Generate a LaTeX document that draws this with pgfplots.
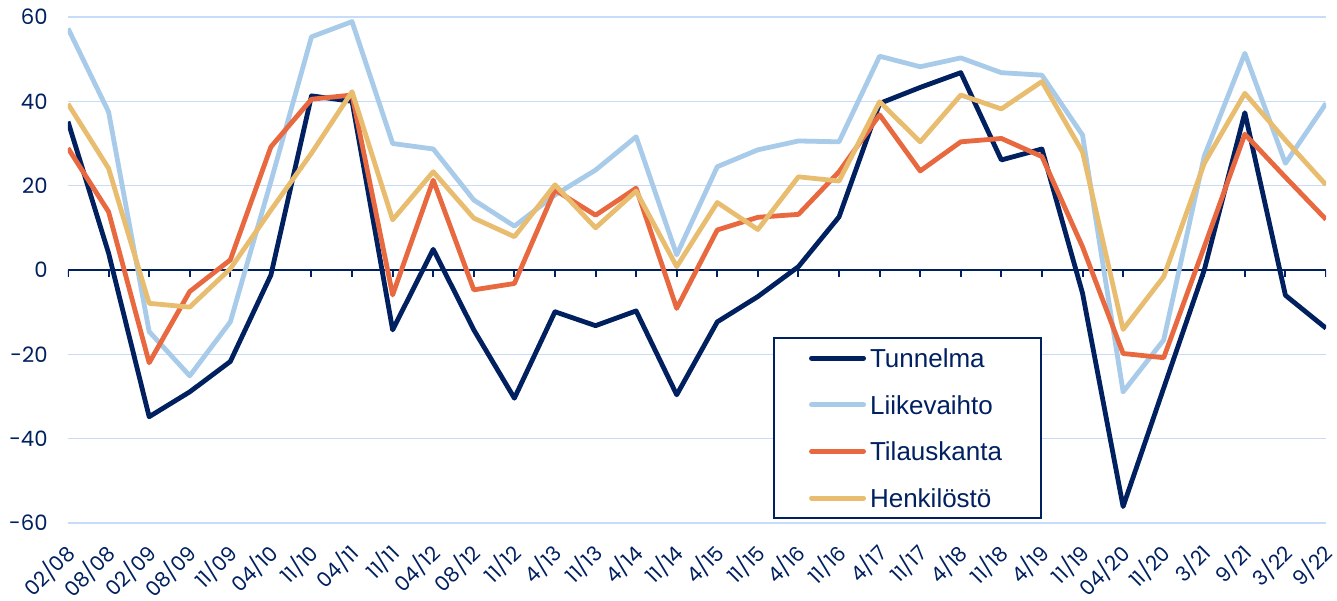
\documentclass[border=0pt]{standalone}
\usepackage{pgfplots}
\pgfplotsset{compat=1.18}
\usepackage{fontspec}
\setmainfont{Liberation Sans}
\newfontfamily\gothic{Poppins}
\usetikzlibrary{calc}

\definecolor{navy}{HTML}{002060}
\definecolor{lblue}{HTML}{A8CBEA}
\definecolor{orng}{HTML}{E8693F}
\definecolor{gold}{HTML}{E8BD70}
\definecolor{gridc}{HTML}{C6DCF8}

% x = jakso (0 = 02/08 ... 31 = 9/22)
\pgfplotstableread{
x   tun    lii    til    hen
0   35.2   57.3   28.9   39.4
1   4.0    37.5   13.8   24.1
2   -34.8  -14.6  -22.0  -7.9
3   -28.9  -25.1  -5.1   -8.8
4   -21.7  -12.3  2.4    0.3
5   -1.2   21.0   29.2   14.2
6   41.3   55.3   40.5   27.7
7   40.0   58.9   41.5   42.3
8   -14.2  30.0   -5.9   11.9
9   4.9    28.7   21.3   23.3
10  -14.2  16.6   -4.7   12.3
11  -30.4  10.4   -3.2   7.9
12  -9.9   17.8   19.0   20.2
13  -13.2  23.7   13.0   10.0
14  -9.7   31.6   19.4   18.7
15  -29.6  3.6    -9.1   0.8
16  -12.3  24.5   9.5    16.0
17  -6.3   28.5   12.5   9.6
18  0.8    30.6   13.2   22.1
19  12.6   30.4   23.3   21.1
20  39.5   50.7   36.8   39.9
21  43.3   48.2   23.5   30.4
22  46.8   50.3   30.4   41.5
23  26.1   46.8   31.2   38.2
24  28.7   46.2   26.9   44.7
25  -5.5   32.0   5.5    28.0
26  -56.1  -28.9  -19.8  -14.1
27  -28.0  -16.6  -20.8  -1.6
28  0.0    27.0   5.5    25.3
29  37.3   51.4   32.2   41.9
30  -6.0   25.3   22.0   30.8
31  -13.8  39.5   12.0   20.2
}\data

\begin{document}
\begin{tikzpicture}
\begin{axis}[
    scale only axis,
    width=629pt, height=253pt,
    xmin=0, xmax=31, ymin=-60, ymax=60,
    axis line style={draw=none},
    major tick length=0pt,
    xtick={0,...,31},
    xticklabels={02/08,08/08,02/09,08/09,11/09,04/10,11/10,04/11,11/11,04/12,08/12,11/12,4/13,11/13,4/14,11/14,4/15,11/15,4/16,11/16,4/17,11/17,4/18,11/18,4/19,11/19,04/20,11/20,3/21,9/21,3/22,9/22},
    xticklabel style={font=\gothic\fontsize{10.3}{12}\selectfont, text=navy, xshift=1.5pt, yshift=-13pt, rotate=45, anchor=east, inner sep=0pt},
    ytick={-60,-40,...,60},
    yticklabels={-60,-40,-20,0,20,40,60},
    yticklabel style={font=\gothic\fontsize{10.6}{12}\selectfont, text=navy, anchor=east, inner sep=0pt, xshift=-10pt},
    ymajorgrids,
    major grid style={gridc, line width=0.7pt},
    every axis plot/.append style={line width=2.4pt, line join=round},
    legend style={at={(axis cs:24.0,-59.1)}, anchor=south east, draw=navy, line width=0.9pt,
        fill=white, font=\fontsize{13}{15}\selectfont, text=navy,
        inner xsep=17.5pt, inner ysep=3.5pt, row sep=10pt,
        nodes={inner sep=2pt, text height=9.3pt, text depth=0pt}},
    legend cell align=left,
    legend image code/.code={\draw[#1, line width=2.5pt, line cap=round] (0pt,0pt) -- (26pt,0pt);},
]
\draw[navy, line width=1pt] (axis cs:0,0) -- (axis cs:31,0);
\pgfplotsinvokeforeach{0,...,31}{\draw[navy, line width=1pt] (axis cs:#1,0) -- ++(0pt,-3.5pt);}
\addplot[navy] table[x=x, y=tun] {\data};
\addlegendentry{Tunnelma}
\addplot[lblue] table[x=x, y=lii] {\data};
\addlegendentry{Liikevaihto}
\addplot[orng] table[x=x, y=til] {\data};
\addlegendentry{Tilauskanta}
\addplot[gold] table[x=x, y=hen] {\data};
\addlegendentry{Henkilöstö}
\coordinate (pbl) at (rel axis cs:0,0);
\coordinate (ptr) at (rel axis cs:1,1);
\end{axis}
\pgfresetboundingbox
\path[use as bounding box] ($(pbl)+(-34pt,-38.5pt)$) rectangle ($(ptr)+(5.5pt,8.5pt)$);
\end{tikzpicture}
\end{document}
